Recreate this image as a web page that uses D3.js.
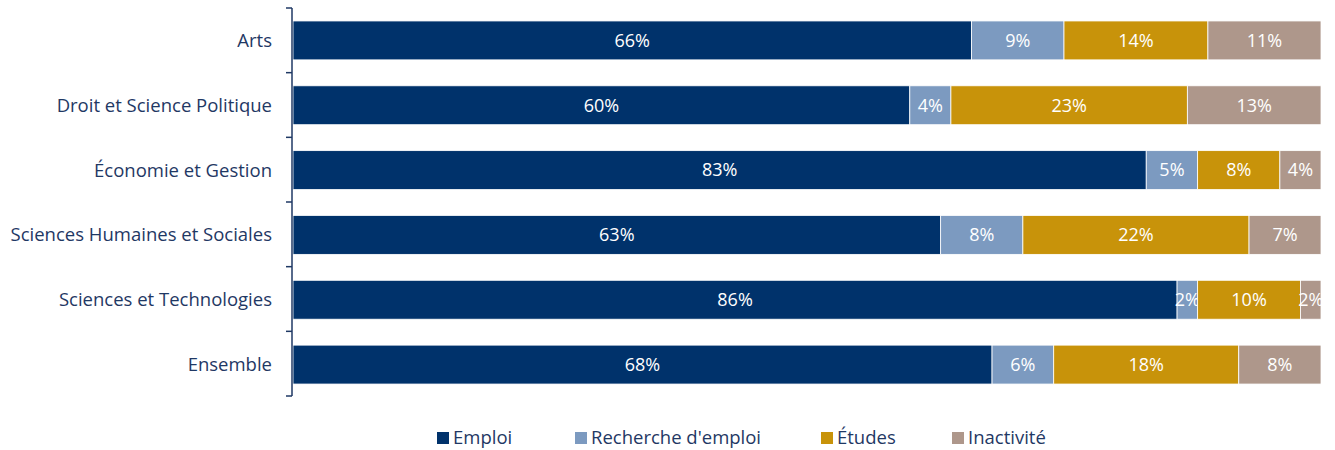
<!DOCTYPE html>
<html>
<head>
<meta charset="utf-8">
<script src="https://cdn.jsdelivr.net/npm/d3@7"></script>
<style>
  body { margin: 0; background: #fff; }
  text { font-family: "Open Sans", sans-serif; }
</style>
</head>
<body>
<div id="chart"></div>
<script>
// categories (top to bottom)
const categories = ["Arts", "Droit et Science Politique", "Économie et Gestion",
  "Sciences Humaines et Sociales", "Sciences et Technologies", "Ensemble"]

// series values, in %
const series = ["Emploi", "Recherche d'emploi", "Études", "Inactivité"]
const emploi     = [66, 60, 83, 63, 86, 68]
const recherche  = [9, 4, 5, 8, 2, 6]
const etudes     = [14, 23, 8, 22, 10, 18]
const inactivite = [11, 13, 4, 7, 2, 8]

const colors = ["#00326B", "#7C9AC0", "#C8930A", "#AE978B"]

const width = 1335
const height = 450
const margin = {top: 8, right: 14, bottom: 53, left: 293}

// build rows for the stack
const rows = categories.map((c, i) => ({
  cat: c,
  "Emploi": emploi[i],
  "Recherche d'emploi": recherche[i],
  "Études": etudes[i],
  "Inactivité": inactivite[i]
}))

const stacked = d3.stack().keys(series)(rows)

const svg = d3.select("#chart")
  .append("svg")
    .attr("width", width)
    .attr("height", height)

const x = d3.scaleLinear()
  .domain([0, 100])
  .range([margin.left, width - margin.right])

const y = d3.scaleBand()
  .domain(categories)
  .range([margin.top, height - margin.bottom])
  .paddingInner(0.4)
  .paddingOuter(0.2)

const color = d3.scaleOrdinal().domain(series).range(colors)

// bars
const layer = svg.append("g")
  .selectAll("g")
  .data(stacked)
  .join("g")
    .attr("fill", d => color(d.key))

layer.selectAll("rect")
  .data(d => d)
  .join("rect")
    .attr("x", d => x(d[0]))
    .attr("y", d => y(d.data.cat))
    .attr("width", d => x(d[1]) - x(d[0]))
    .attr("height", y.bandwidth())
    .attr("stroke", "#fff")
    .attr("stroke-width", 0.8)

// value labels
layer.selectAll("text")
  .data(d => d)
  .join("text")
    .attr("x", d => (x(d[0]) + x(d[1])) / 2)
    .attr("y", d => y(d.data.cat) + y.bandwidth() / 2)
    .attr("dy", "0.35em")
    .attr("text-anchor", "middle")
    .attr("fill", "#fff")
    .style("font-size", "18px")
    .text(d => (d[1] - d[0]) + "%")

// category axis, ticks at band boundaries
const axisX = margin.left - 1
const top0 = margin.top
const bottom0 = height - margin.bottom - 1
const axis = svg.append("g")
axis.append("line")
  .attr("x1", axisX).attr("x2", axisX)
  .attr("y1", top0).attr("y2", bottom0)
  .attr("stroke", "#1F3864").attr("stroke-width", 1.5)

const bounds = d3.range(categories.length + 1).map(i => top0 + i * (bottom0 - top0) / categories.length)
axis.selectAll("line.tick")
  .data(bounds)
  .join("line")
    .attr("class", "tick")
    .attr("x1", axisX - 6).attr("x2", axisX)
    .attr("y1", d => d).attr("y2", d => d)
    .attr("stroke", "#1F3864").attr("stroke-width", 1.5)

axis.selectAll("text")
  .data(categories)
  .join("text")
    .attr("x", axisX - 20)
    .attr("y", d => y(d) + y.bandwidth() / 2)
    .attr("dy", "0.35em")
    .attr("text-anchor", "end")
    .attr("fill", "#1F3864")
    .style("font-size", "18.5px")
    .text(d => d)

// legend
const legendX = [437, 575, 821, 952]
const legend = svg.append("g")
  .selectAll("g")
  .data(series)
  .join("g")
    .attr("transform", (d, i) => `translate(${legendX[i]},438)`)

legend.append("rect")
  .attr("x", 0).attr("y", -6)
  .attr("width", 12).attr("height", 12)
  .attr("fill", d => color(d))

legend.append("text")
  .attr("x", 16)
  .attr("dy", "0.35em")
  .attr("fill", "#1F3864")
  .style("font-size", "18.5px")
  .text(d => d)
</script>
</body>
</html>
